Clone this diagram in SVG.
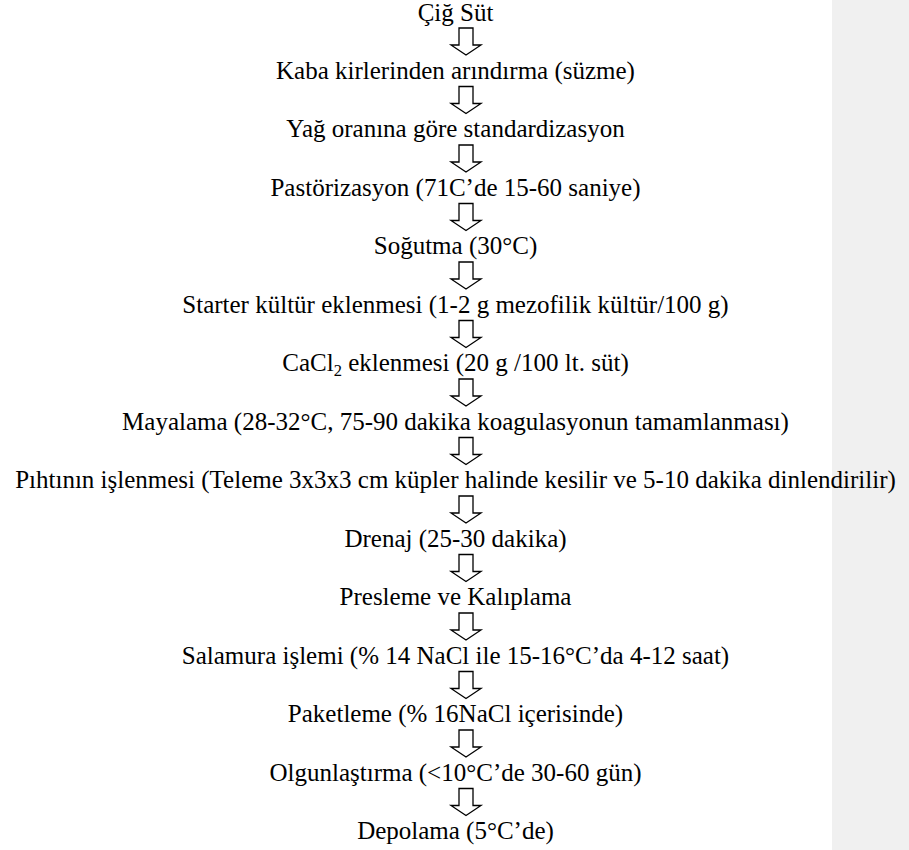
<svg xmlns="http://www.w3.org/2000/svg" width="909" height="850" viewBox="0 0 909 850">
<style>
.ar{fill:#fff;stroke:#000;stroke-width:1.3;stroke-linejoin:miter}
</style>
<defs>
<path id="arr" class="ar" d="M459,0 V17 H451 L466,27 L481,17 H473 V0 Z"/>
</defs>
<rect x="832" y="0" width="77" height="850" fill="#f0f0f0"/>
<g id="connectors">
<use href="#arr" y="28"/>
<use href="#arr" y="86.5"/>
<use href="#arr" y="145"/>
<use href="#arr" y="203.5"/>
<use href="#arr" y="262"/>
<use href="#arr" y="320.5"/>
<use href="#arr" y="379"/>
<use href="#arr" y="437.5"/>
<use href="#arr" y="496"/>
<use href="#arr" y="554.5"/>
<use href="#arr" y="613"/>
<use href="#arr" y="671.5"/>
<use href="#arr" y="730"/>
<use href="#arr" y="788.5"/>
</g>
<g font-family="Liberation Serif, Times New Roman, serif" font-size="25" fill="#000" text-anchor="middle">
<g id="n1"><text x="455.5" y="20.5">Çiğ Süt</text></g>
<g id="n2"><text x="455.5" y="78.5">Kaba kirlerinden arındırma (süzme)</text></g>
<g id="n3"><text x="455.5" y="137">Yağ oranına göre standardizasyon</text></g>
<g id="n4"><text x="455.5" y="195.5">Pastörizasyon (71C’de 15-60 saniye)</text></g>
<g id="n5"><text x="455.5" y="254">Soğutma (30°C)</text></g>
<g id="n6"><text x="455.5" y="312.5">Starter kültür eklenmesi (1-2 g mezofilik kültür/100 g)</text></g>
<g id="n7"><text x="455.5" y="371">CaCl<tspan font-size="16.5" dy="5">2</tspan><tspan dy="-5"> eklenmesi (20 g /100 lt. süt)</tspan></text></g>
<g id="n8"><text x="455.5" y="429.5">Mayalama (28-32°C, 75-90 dakika koagulasyonun tamamlanması)</text></g>
<g id="n9"><text x="455.5" y="488">Pıhtının işlenmesi (Teleme 3x3x3 cm küpler halinde kesilir ve 5-10 dakika dinlendirilir)</text></g>
<g id="n10"><text x="455.5" y="546.5">Drenaj (25-30 dakika)</text></g>
<g id="n11"><text x="455.5" y="605">Presleme ve Kalıplama</text></g>
<g id="n12"><text x="455.5" y="663.5">Salamura işlemi (% 14 NaCl ile 15-16°C’da 4-12 saat)</text></g>
<g id="n13"><text x="455.5" y="722">Paketleme (% 16NaCl içerisinde)</text></g>
<g id="n14"><text x="455.5" y="780.5">Olgunlaştırma (&lt;10°C’de 30-60 gün)</text></g>
<g id="n15"><text x="455.5" y="839">Depolama (5°C’de)</text></g>
</g>
</svg>
